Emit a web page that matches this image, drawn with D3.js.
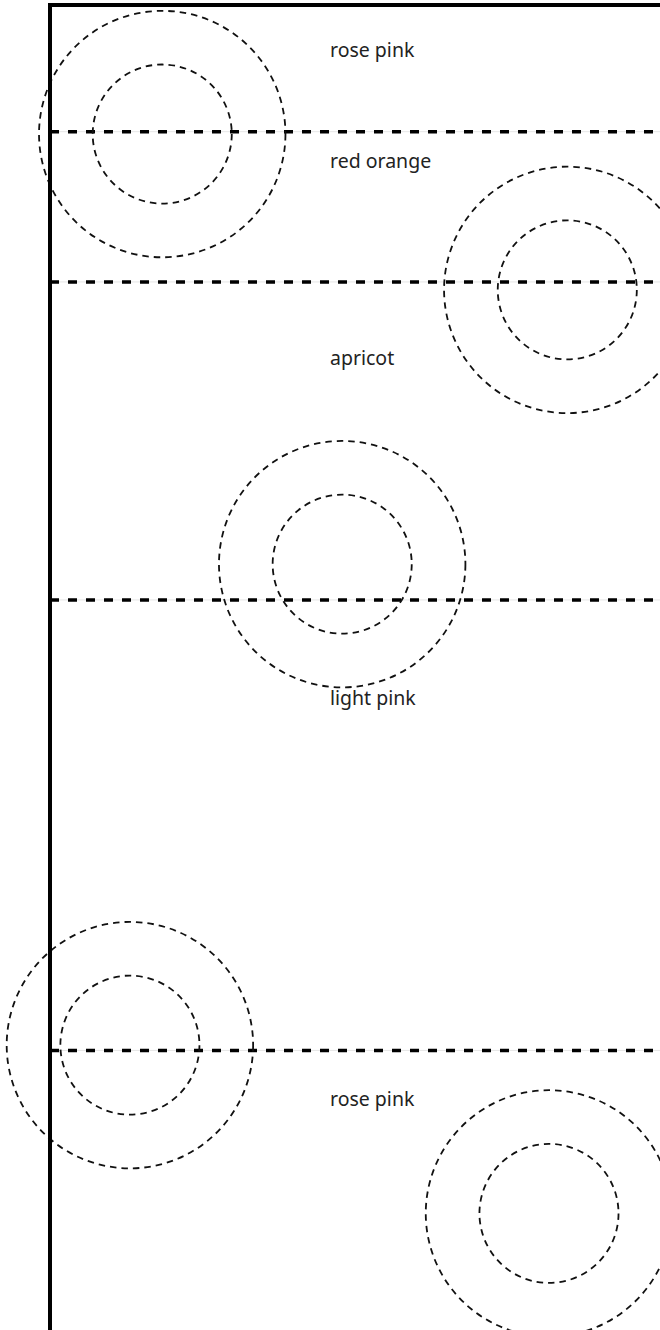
<!DOCTYPE html>
<html>
<head>
<meta charset="utf-8">
<script src="https://cdn.jsdelivr.net/npm/d3@7"></script>
<style>
  html, body { margin: 0; padding: 0; background: #fff; }
  svg { display: block; }
</style>
</head>
<body>
<svg id="chart" width="660" height="1330"></svg>
<script>
// ---- data (chart units) ----
const labels = ["rose pink", "red orange", "apricot", "light pink", "rose pink"];
const labelX = [45.9, 45.9, 45.9, 45.9, 45.9];
const labelY = [3.9, 12.3, 27.2, 52.8, 83.1];

const ruleY = [9.56, 20.9, 44.9, 78.9];

const circleX = [18.4, 84.8, 47.9, 13.1, 81.8];
const circleY = [9.74, 21.5, 42.2, 78.5, 91.2];
const outerR = [20.2, 20.2, 20.2, 20.2, 20.2];
const innerR = [11.4, 11.4, 11.4, 11.4, 11.4];

// ---- scales ----
const x = d3.scaleLinear().domain([0, 100]).range([50, 660]);
const y = d3.scaleLinear().domain([0, 100]).range([5, 1330]);
const rScale = v => x(v) - x(0);

const svg = d3.select("#chart");

// faint guide under rules
svg.append("g").selectAll("line.guide").data(ruleY).join("line")
  .attr("x1", x(0)).attr("x2", x(100))
  .attr("y1", d => y(d)).attr("y2", d => y(d))
  .attr("stroke", "#e6e6e6").attr("stroke-width", 1);

// dashed horizontal rules
svg.append("g").selectAll("line.rule").data(ruleY).join("line")
  .attr("class", "rule")
  .attr("x1", x(0)).attr("x2", x(100))
  .attr("y1", d => y(d)).attr("y2", d => y(d))
  .attr("stroke", "#000").attr("stroke-width", 3.5)
  .attr("stroke-dasharray", "9,9");

// circles
const cData = circleX.map((cx, i) => ({cx, cy: circleY[i], ro: outerR[i], ri: innerR[i]}));
const cg = svg.append("g");
cg.selectAll("circle.outer").data(cData).join("circle")
  .attr("cx", d => x(d.cx)).attr("cy", d => y(d.cy)).attr("r", d => rScale(d.ro))
  .attr("fill", "none").attr("stroke", "#111").attr("stroke-width", 1.8)
  .attr("stroke-dasharray", "6.5,5");
cg.selectAll("circle.inner").data(cData).join("circle")
  .attr("cx", d => x(d.cx)).attr("cy", d => y(d.cy)).attr("r", d => rScale(d.ri))
  .attr("fill", "none").attr("stroke", "#111").attr("stroke-width", 1.8)
  .attr("stroke-dasharray", "6.5,5");

// labels
svg.append("g").selectAll("text").data(labels).join("text")
  .attr("x", (d, i) => x(labelX[i]))
  .attr("y", (d, i) => y(labelY[i]))
  .attr("font-family", "'Noto Sans', sans-serif")
  .attr("font-size", 19.5)
  .attr("fill", "#222")
  .text(d => d);

// frame: left axis line and top line
svg.append("line")
  .attr("x1", x(0)).attr("x2", x(0))
  .attr("y1", y(0)).attr("y2", y(100))
  .attr("stroke", "#000").attr("stroke-width", 4);
svg.append("line")
  .attr("x1", x(0) - 2).attr("x2", x(100))
  .attr("y1", y(0)).attr("y2", y(0))
  .attr("stroke", "#000").attr("stroke-width", 4);
</script>
</body>
</html>
